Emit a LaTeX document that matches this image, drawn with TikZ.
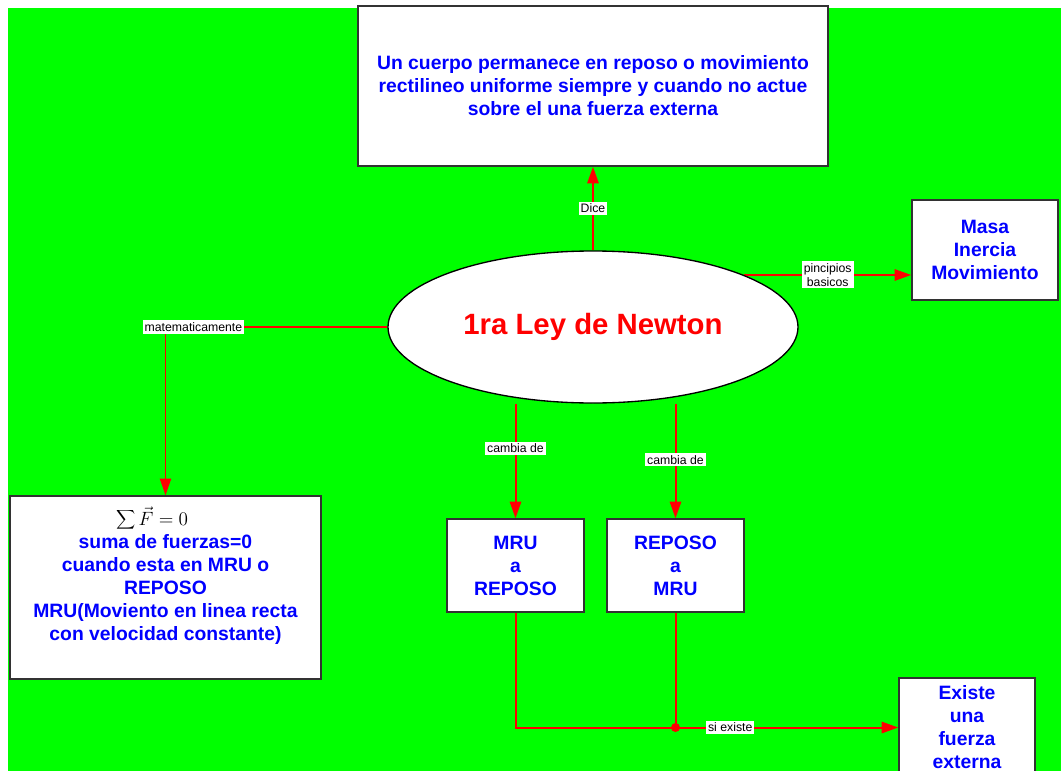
\documentclass[tikz,border=0pt]{standalone}
\usepackage{fontspec}
\setmainfont{Liberation Sans}
\usetikzlibrary{arrows.meta,backgrounds,shapes.geometric}
\definecolor{bggreen}{RGB}{0,255,0}
\definecolor{txtblue}{RGB}{0,0,255}
\definecolor{lnred}{RGB}{255,0,0}
\definecolor{bord}{RGB}{50,50,50}
\begin{document}
\begin{tikzpicture}[x=0.75pt,y=-0.75pt,
  box/.style={draw=bord, line width=1.1pt, fill=white, inner sep=0pt, align=center,
    text=txtblue, font=\fontsize{14.5}{17.25}\selectfont\bfseries},
  lbl/.style={fill=white, inner sep=1.5pt, font=\fontsize{9.2}{10.5}\selectfont,
    text=black, align=center},
  conn/.style={draw=lnred, line width=1.5pt, -{Triangle[length=12.5pt,width=8.5pt]}},
  plain/.style={draw=lnred, line width=1.5pt},
  thin/.style={draw=lnred, line width=0.9pt, -{Triangle[length=12.5pt,width=8.5pt]}},
]
\useasboundingbox (0,0) rectangle (1061,771);

\node[box, minimum width=352.5pt, minimum height=120pt] (top) at (593,86)
  {Un cuerpo permanece en reposo o movimiento\\
   rectilineo uniforme siempre y cuando no actue\\
   sobre el una fuerza externa};
\node[box, minimum width=109.5pt, minimum height=75pt] (masa) at (985,250)
  {Masa\\Inercia\\Movimiento};
\node[draw=black, line width=1pt, fill=white, ellipse, inner sep=0pt,
  minimum width=307.5pt, minimum height=114pt, text=lnred,
  font=\fontsize{22}{26}\selectfont\bfseries] (ell) at (593,327) {1ra Ley de Newton};
\node[box, minimum width=233.25pt, minimum height=137.25pt] (left) at (165.5,587.5)
  {\raisebox{2pt}{\color{black}$\displaystyle\sum\vec{F}=0$}\hspace*{20pt}\\[-2pt]
   suma de fuerzas=0\\
   cuando esta en MRU o\\
   REPOSO\\
   MRU(Moviento en linea recta\\
   con velocidad constante)\\[4pt]
   \mbox{}};
\node[box, minimum width=102.75pt, minimum height=69.75pt] (mru1) at (515.5,565.5)
  {MRU\\a\\REPOSO};
\node[box, minimum width=102.75pt, minimum height=69.75pt] (mru2) at (675.5,565.5)
  {REPOSO\\a\\MRU};
\node[box, minimum width=102pt, minimum height=74.25pt] (existe) at (967,727.5)
  {Existe\\una\\fuerza\\externa};

\begin{pgfonlayer}{background}
  \fill[bggreen] (8,8) rectangle (1061,771);
  \draw[conn] (ell.north) -- node[lbl, pos=0.5] (ldice) {Dice} (top.south);
  \draw[conn] (ell.19) -- node[lbl, pos=0.5] (lpb) {pincipios\\basicos} (ell.19 -| masa.west);
  \draw[thin] (ell.west) -- node[lbl, pos=0.874] (lmat) {matematicamente}
    (left.north |- ell.west) -- (left.north);
  \draw[conn] (mru1.north |- ell.south) -- node[lbl, pos=0.39] (lc1) {cambia de} (mru1.north);
  \draw[conn] (mru2.north |- ell.south) -- node[lbl, pos=0.49] (lc2) {cambia de} (mru2.north);
  \draw[plain] (mru2.south) -- (mru2.south |- existe.west) coordinate (j);
  \draw[conn] (mru1.south) -- (mru1.south |- existe.west) --
    node[lbl, pos=0.561] (lsi) {si existe} (existe.west);
  \fill[lnred] (j) circle (4.5);
\end{pgfonlayer}
\end{tikzpicture}
\end{document}
